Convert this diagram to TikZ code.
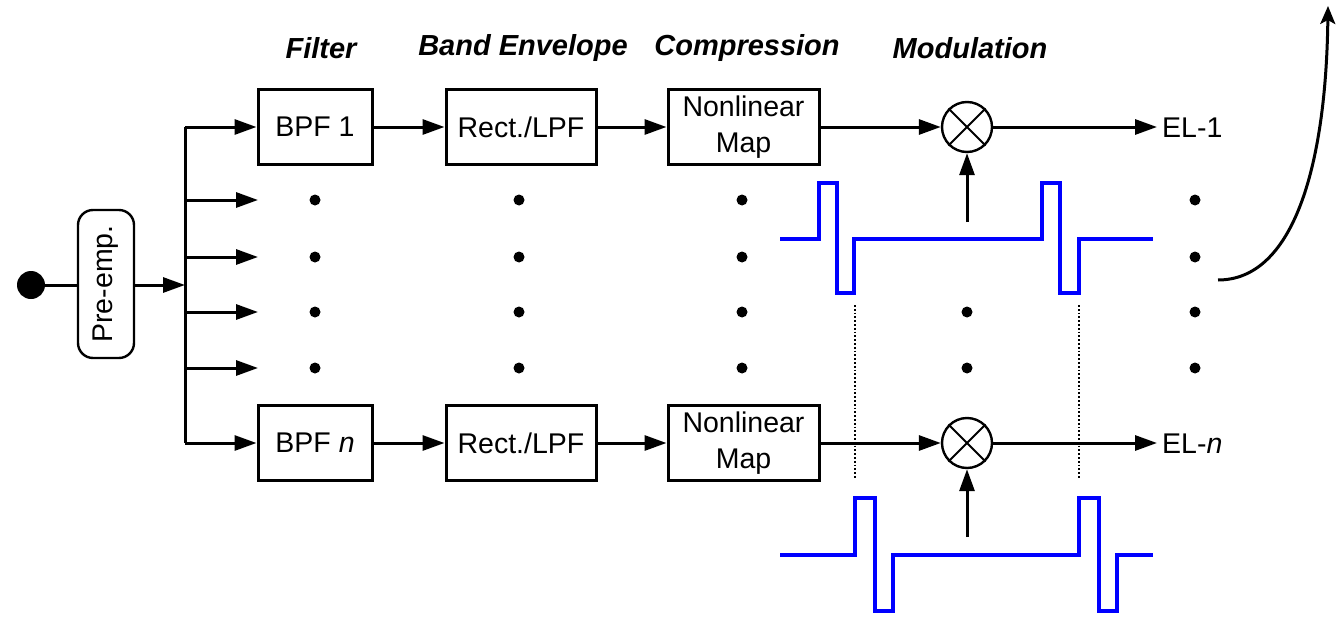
\documentclass[tikz,border=0pt]{standalone}
\usepackage{fontspec}
\setmainfont{Liberation Sans}
\usetikzlibrary{arrows.meta}
\begin{document}
\begin{tikzpicture}[x=1pt,y=-1pt,
  blk/.style={draw,line width=3pt,minimum height=75pt,inner sep=0pt,align=center,font=\fontsize{28.5}{36}\selectfont},
  hdr/.style={font=\fontsize{29}{32}\selectfont\bfseries\itshape,inner sep=0pt},
  ar/.style={line width=3pt,-{Triangle[length=22pt,width=15pt]}},
  ln/.style={line width=3pt},
  dotn/.style={circle,fill,inner sep=0pt,minimum size=11pt},
  mult/.style={circle,draw,line width=2.4pt,minimum size=50pt,inner sep=0pt},
  pulse/.style={draw=blue,line width=3.2pt},
  lbl/.style={font=\fontsize{28.5}{32}\selectfont,anchor=west,inner sep=0pt}]
\useasboundingbox (0,0) rectangle (1338,618);
% headers
\node[hdr] (h1) at (321,48) {Filter};
\node[hdr] (h2) at (523,48) {Band Envelope};
\node[hdr] (h3) at (747,48) {Compression};
\node[hdr] (h4) at (970,48) {Modulation};
% input and pre-emphasis
\node[circle,fill,minimum size=28pt,inner sep=0pt] (in) at (31,285) {};
\node[draw,rounded corners=15pt,line width=2.4pt,minimum width=56pt,minimum height=148pt,inner sep=0pt] (pre) at (106,284) {};
\node[rotate=90,font=\fontsize{28.5}{32}\selectfont,inner sep=0pt] (pret) at (pre.center) {Pre-emp.};
\draw[ln] (in) -- (in -| pre.west);
\coordinate (bus) at (185,285);
\draw[ar] (pre.east |- bus) -- (bus);
% blocks
\node[blk,minimum width=114pt] (bpf1) at (315,127) {BPF 1};
\node[blk,minimum width=114pt] (bpfn) at (315,443) {BPF \textit{n}};
\node[blk,minimum width=150pt] (rect1) at (521,127) {Rect./LPF};
\node[blk,minimum width=150pt] (rectn) at (521,443) {Rect./LPF};
\node[blk,minimum width=151pt] (nl1) at (743.5,127) {Nonlinear\\Map};
\node[blk,minimum width=151pt] (nln) at (743.5,443) {Nonlinear\\Map};
\node[mult] (m1) at (967,127) {};
\node[mult] (mn) at (967,443) {};
\draw[line width=1.8pt] (m1.45) -- (m1.225) (m1.135) -- (m1.315);
\draw[line width=1.8pt] (mn.45) -- (mn.225) (mn.135) -- (mn.315);
% bus
\coordinate (bt) at (185,127);
\coordinate (bb) at (185,443);
\draw[ln] (bt) -- (bb);
\draw[ar] (bt) -- (bpf1);
\draw[ar] (bb) -- (bpfn);
\foreach \y [count=\i] in {200,257,312,368}{
  \coordinate (s\i) at (185,\y);
  \coordinate (e\i) at (258,\y);
  \draw[ar] (s\i) -- (e\i);
}
% chain arrows
\draw[ar] (bpf1) -- (rect1);
\draw[ar] (rect1) -- (nl1);
\draw[ar] (nl1) -- (m1);
\draw[ar] (bpfn) -- (rectn);
\draw[ar] (rectn) -- (nln);
\draw[ar] (nln) -- (mn);
\coordinate (o1) at (1157,127);
\coordinate (on) at (1157,443);
\draw[ar] (m1) -- (o1);
\draw[ar] (mn) -- (on);
\node[lbl] (el1) at (1162,128) {EL-1};
\node[lbl] (eln) at (1162,444) {EL-\textit{n}};
% dots
\foreach \x in {315,519,742,1195}{
  \foreach \y in {200,257,312,368}{
    \node[dotn] at (\x,\y) {};
  }
}
\node[dotn] at (967,312) {};
\node[dotn] at (967,368) {};
% pulse trains
\draw[pulse] (780,239) -- (819,239) -- (819,183) -- (837,183) -- (837,293) -- (854,293) -- (854,239)
  -- (1042,239) -- (1042,183) -- (1060,183) -- (1060,293) -- (1079,293) -- (1079,239) -- (1153,239);
\draw[pulse] (780,555) -- (855,555) -- (855,498) -- (875,498) -- (875,611) -- (893,611) -- (893,555)
  -- (1079,555) -- (1079,498) -- (1099,498) -- (1099,611) -- (1117,611) -- (1117,555) -- (1153,555);
\coordinate (p1) at (967,222);
\coordinate (pn) at (967,537);
\draw[ar] (p1) -- (m1);
\draw[ar] (pn) -- (mn);
% dotted guides
\draw[dotted,line width=1.8pt] (855,305) -- (855,478);
\draw[dotted,line width=1.8pt] (1079,305) -- (1079,478);
% curved arrow
\coordinate (cs) at (1218,280);
\coordinate (ce) at (1328,6);
\draw[line width=3pt,-{Stealth[length=18pt,width=15pt,inset=4pt]}] (cs) .. controls (1292,280) and (1326,170) .. (ce);
\end{tikzpicture}
\end{document}
